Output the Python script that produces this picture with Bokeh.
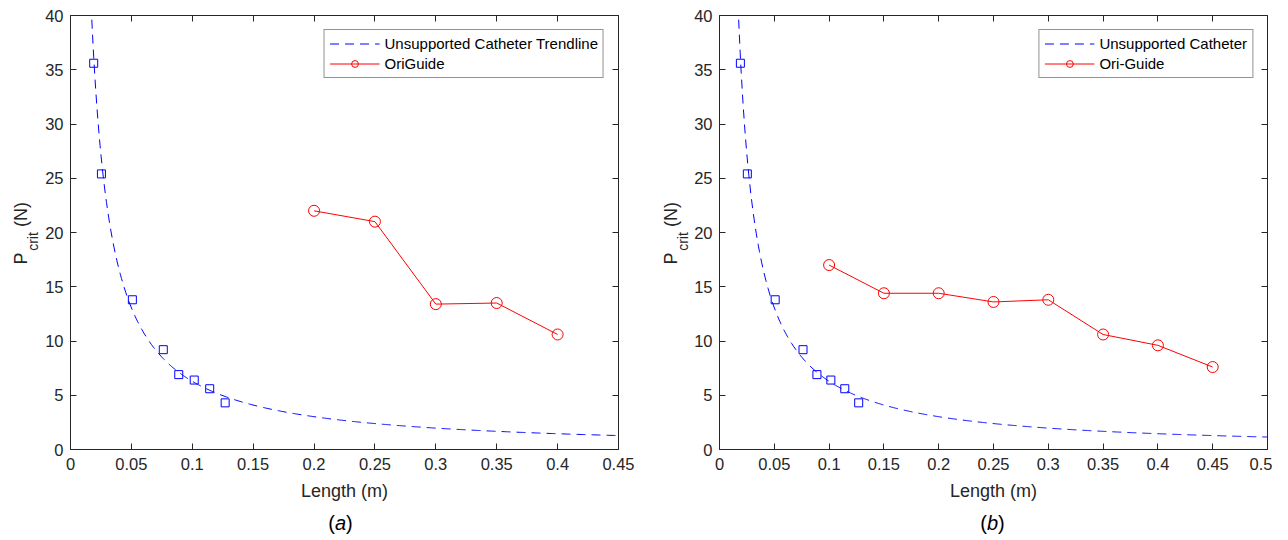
import numpy as np
from bokeh.plotting import figure
from bokeh.layouts import row, column
from bokeh.models import Range1d, LinearAxis, FixedTicker, Label, Legend, LegendItem
from bokeh.embed import file_html
from bokeh.resources import INLINE

# ---------------- data ----------------
unsupported_length = [0.01905, 0.0254, 0.0508, 0.0762, 0.0889, 0.1016, 0.1143, 0.127]
unsupported_pcrit = [35.6, 25.4, 13.8, 9.2, 6.9, 6.4, 5.6, 4.3]

origuide_a_length = [0.20, 0.25, 0.30, 0.35, 0.40]
origuide_a_pcrit = [22.0, 21.0, 13.4, 13.5, 10.6]

origuide_b_length = [0.10, 0.15, 0.20, 0.25, 0.30, 0.35, 0.40, 0.45]
origuide_b_pcrit = [17.0, 14.4, 14.4, 13.6, 13.8, 10.6, 9.6, 7.6]

x_ticks_a = [0, 0.05, 0.1, 0.15, 0.2, 0.25, 0.3, 0.35, 0.4, 0.45]
x_tick_labels_a = ["0", "0.05", "0.1", "0.15", "0.2", "0.25", "0.3", "0.35", "0.4", "0.45"]
x_ticks_b = [0, 0.05, 0.1, 0.15, 0.2, 0.25, 0.3, 0.35, 0.4, 0.45, 0.5]
x_tick_labels_b = ["0", "0.05", "0.1", "0.15", "0.2", "0.25", "0.3", "0.35", "0.4", "0.45", "0.5"]
y_ticks = [0, 5, 10, 15, 20, 25, 30, 35, 40]
y_tick_labels = ["0", "5", "10", "15", "20", "25", "30", "35", "40"]

legend_labels_a = ["Unsupported Catheter Trendline", "OriGuide"]
legend_labels_b = ["Unsupported Catheter", "Ori-Guide"]
caption_letters = ["a", "b"]
x_axis_title = "Length (m)"

# power-law trendline fitted to the unsupported catheter data
fit_b, fit_ln_a = np.polyfit(np.log(unsupported_length), np.log(unsupported_pcrit), 1)
fit_a = np.exp(fit_ln_a)

AX = "#262626"
FONT = "Liberation Sans"
TOTAL_H = 536
PLOT_H = 507


def style_axis(ax, show_labels=True):
    ax.axis_line_color = AX
    ax.axis_line_width = 1
    ax.major_tick_line_color = AX
    ax.major_tick_in = 6
    ax.major_tick_out = 0
    ax.minor_tick_line_color = None
    ax.major_label_text_font = FONT
    ax.major_label_text_color = AX
    if show_labels:
        ax.major_label_text_font_size = "16.5px"
    else:
        ax.major_label_text_font_size = "0px"
        ax.major_label_text_color = None
        ax.major_label_standoff = 0


def blank_fig(width, height):
    f = figure(width=width, height=height, output_backend="svg", toolbar_location=None,
               x_range=Range1d(0, 1), y_range=Range1d(0, 1),
               min_border_left=0, min_border_right=0, min_border_top=0, min_border_bottom=0)
    f.axis.visible = False
    f.grid.visible = False
    f.outline_line_color = None
    f.background_fill_color = "white"
    f.border_fill_color = "white"
    return f


def make_panel(x_max, x_ticks, x_labels, og_x, og_y, leg_labels, width, bl, br):
    p = figure(width=width, height=PLOT_H, x_range=Range1d(0, x_max), y_range=Range1d(0, 40),
               output_backend="svg", toolbar_location=None,
               min_border_left=bl, min_border_right=br, min_border_top=15,
               min_border_bottom=PLOT_H - 449)
    p.xgrid.visible = False
    p.ygrid.visible = False
    p.outline_line_color = None
    p.background_fill_color = "white"
    p.border_fill_color = "white"

    xa = p.xaxis[0]
    ya = p.yaxis[0]
    style_axis(xa)
    style_axis(ya)
    xa.ticker = FixedTicker(ticks=x_ticks)
    ya.ticker = FixedTicker(ticks=y_ticks)
    xa.major_label_overrides = dict(zip(x_ticks, x_labels))
    ya.major_label_overrides = dict(zip(y_ticks, y_tick_labels))
    xa.major_label_standoff = 8
    ya.major_label_standoff = 7
    xa.axis_label = x_axis_title
    xa.axis_label_text_font = FONT
    xa.axis_label_text_font_size = "18px"
    xa.axis_label_text_font_style = "normal"
    xa.axis_label_text_color = AX
    xa.axis_label_standoff = 8

    top = LinearAxis(ticker=FixedTicker(ticks=x_ticks))
    style_axis(top, False)
    p.add_layout(top, "above")
    right = LinearAxis(ticker=FixedTicker(ticks=y_ticks))
    style_axis(right, False)
    p.add_layout(right, "right")

    xs = np.linspace(0.012, x_max, 500)
    ys = fit_a * xs ** fit_b
    trend = p.line(xs, ys, line_color="#0000ff", line_width=1, line_dash="9 6")
    p.scatter(unsupported_length, unsupported_pcrit, marker="square", size=8,
              line_color="#0000ff", line_width=1, fill_color=None)
    og_line = p.line(og_x, og_y, line_color="#ff0000", line_width=1)
    og_pts = p.scatter(og_x, og_y, marker="circle", size=11, line_color="#ff0000",
                       line_width=1, fill_color=None)

    legend = Legend(items=[LegendItem(label=leg_labels[0], renderers=[trend]),
                           LegendItem(label=leg_labels[1], renderers=[og_line, og_pts])],
                    location="top_right", margin=14, padding=5, spacing=3,
                    label_height=17, glyph_height=17, glyph_width=50, label_standoff=5,
                    label_text_font=FONT, label_text_font_size="15px", label_text_color="black",
                    border_line_color=AX, border_line_width=1, background_fill_color="white",
                    background_fill_alpha=1)
    p.add_layout(legend)
    return p


def ylabel_fig(width, px):
    f = blank_fig(width, TOTAL_H)
    common = dict(x_units="screen", y_units="screen", angle=np.pi / 2, text_align="center",
                  text_baseline="middle", text_font=FONT, text_color=AX)
    f.add_layout(Label(x=px, y=TOTAL_H - 258, text="P", text_font_size="18px", **common))
    f.add_layout(Label(x=px + 12.5, y=TOTAL_H - 241, text="crit", text_font_size="14px", **common))
    f.add_layout(Label(x=px, y=TOTAL_H - 214, text="(N)", text_font_size="18px", **common))
    return f


def caption_fig(width, letter, start_x):
    # the caption plot's frame is aligned with the panel's frame in the column
    f = blank_fig(width, TOTAL_H - PLOT_H)
    cy = TOTAL_H - 522
    common = dict(x_units="screen", y_units="screen", y=cy, text_align="left",
                  text_baseline="middle", text_font=FONT, text_font_size="20px", text_color="black")
    f.add_layout(Label(x=start_x, text="(", **common))
    f.add_layout(Label(x=start_x + 6.7, text=letter, text_font_style="italic", **common))
    f.add_layout(Label(x=start_x + 17.8, text=")", **common))
    return f


# panel (a): page x 40..660, frame 70..618
p1 = make_panel(0.45, x_ticks_a, x_tick_labels_a, origuide_a_length, origuide_a_pcrit,
                legend_labels_a, 620, 30, 42)
# panel (b): page x 690..1272, frame 719..1267
p2 = make_panel(0.5, x_ticks_b, x_tick_labels_b, origuide_b_length, origuide_b_pcrit,
                legend_labels_b, 582, 29, 5)

yl1 = ylabel_fig(40, 20)
yl2 = ylabel_fig(30, 10)
cap1 = caption_fig(620, caption_letters[0], 257.8)
cap2 = caption_fig(582, caption_letters[1], 260.8)

layout = row(yl1, column(p1, cap1), yl2, column(p2, cap2))
open("out.html", "w").write(file_html(layout, INLINE))
